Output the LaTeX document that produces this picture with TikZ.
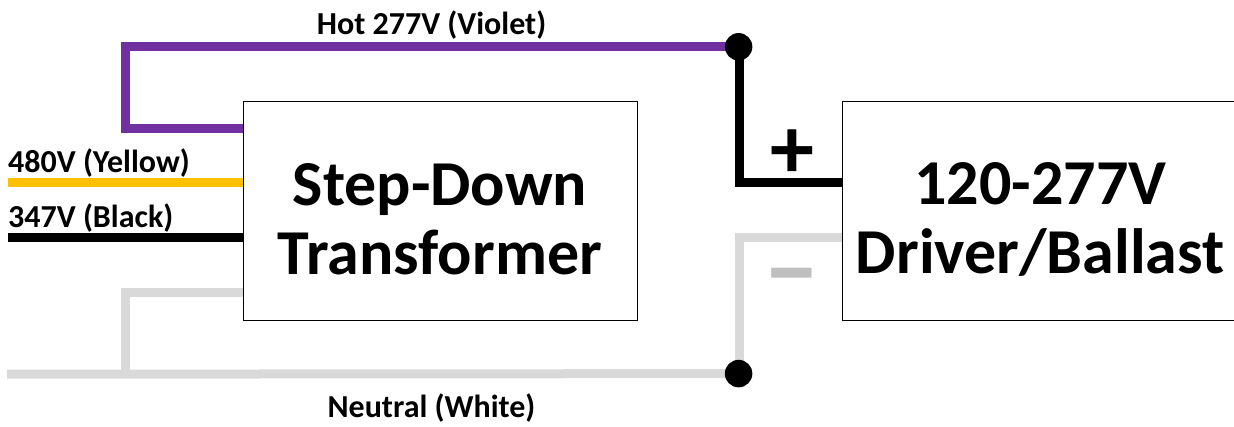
\documentclass[tikz,border=0pt]{standalone}
\usepackage{fontspec}
\usetikzlibrary{backgrounds}
\setmainfont{Carlito}
\definecolor{wireviolet}{HTML}{7030A0}
\definecolor{wireyellow}{HTML}{FFC000}
\definecolor{wiregray}{HTML}{D9D9D9}
\definecolor{minusgray}{HTML}{BFBFBF}
\tikzset{
  wire/.style={line width=9pt,line cap=butt,line join=miter},
  box/.style={draw=black,line width=1pt,fill=white,minimum height=219pt,inner sep=0pt},
  boxtext/.style={inner sep=0pt,align=center,font=\fontsize{64}{69}\selectfont\bfseries},
  dot/.style={circle,fill=black,minimum size=27.5pt,inner sep=0pt},
  lbl/.style={inner sep=0pt,font=\fontsize{32}{38}\selectfont\bfseries}
}
\begin{document}
\begin{tikzpicture}[x=1pt,y=-1pt]
\useasboundingbox (0,0) rectangle (1234,426);
\coordinate (hotbend) at (125,46.8);
\coordinate (hotdrop) at (125,128.3);
\coordinate (yellowstart) at (8,182.8);
\coordinate (blackstart) at (8,237.3);
\coordinate (neutralstart) at (7,374.2);
\coordinate (neutraltap) at (125,374.2);
\coordinate (neutralrise) at (125,292.3);
\coordinate (plusbend) at (739.5,182.6);
\coordinate (minusbend) at (739.3,237.5);
\node[dot] (hotdot) at (738.6,46.8) {};
\node[dot] (neutraldot) at (738.6,373.6) {};
\node[box,minimum width=394pt] (xfmr) at (440,210.5) {};
\node[box,minimum width=395pt] (driver) at (1040.2,210.5) {};
\node[boxtext] (xfmrtext) at (440,219) {Step-Down\\Transformer};
\node[boxtext] (drivertext) at (1040.2,219) {120-277V\\Driver/Ballast};
\begin{scope}[on background layer]
\draw[wire,wireviolet] (hotdot.center) -- (hotbend) -- (hotdrop) -- (hotdrop -| xfmr.west);
\draw[wire,wireyellow] (yellowstart) -- (yellowstart -| xfmr.west);
\draw[wire,black] (blackstart) -- (blackstart -| xfmr.west);
\draw[wire,wiregray] (neutralstart) -- (neutraldot.center);
\draw[wire,wiregray] (neutraltap) -- (neutralrise) -- (neutralrise -| xfmr.west);
\draw[wire,black] (hotdot.center -| plusbend) -- (plusbend) -- (plusbend -| driver.west);
\draw[wire,wiregray] (neutraldot.center -| minusbend) -- (minusbend) -- (minusbend -| driver.west);
\end{scope}
\node[lbl] (hotlbl) at (431.5,25) {Hot 277V (Violet)};
\node[lbl,anchor=west] (yellbl) at (8,163) {480V (Yellow)};
\node[lbl,anchor=west] (blklbl) at (8,218) {347V (Black)};
\node[lbl] (neulbl) at (431.5,408.5) {Neutral (White)};
\node[inner sep=0pt,font=\fontsize{88}{88}\selectfont\bfseries] (plus) at (792.5,154) {+};
\node[inner sep=0pt,text=minusgray,font=\fontsize{114}{114}\selectfont\bfseries] (minus) at (792,287) {–};
\end{tikzpicture}
\end{document}
